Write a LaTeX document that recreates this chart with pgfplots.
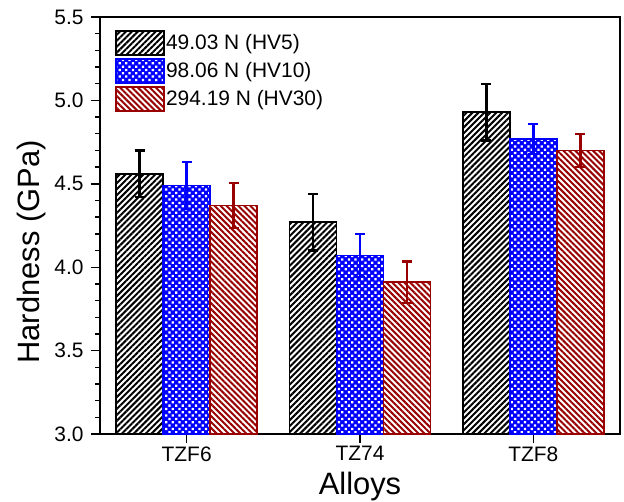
\documentclass[border=0pt]{standalone}
\usepackage{fontspec}
\setmainfont{Liberation Sans}
\usepackage{pgfplots}
\pgfplotsset{compat=1.18}
\usetikzlibrary{patterns.meta}
\definecolor{wine}{HTML}{990000}

\begin{document}
\begin{tikzpicture}
\useasboundingbox (-100bp,-68bp) rectangle (524bp,434bp);
\begin{axis}[
  at={(0,0)}, anchor=south west,
  scale only axis, width=520bp, height=417bp,
  ybar=0pt, bar width=47bp,
  xmin=-0.5, xmax=2.5, ymin=3, ymax=5.5,
  xtick={0,1,2}, xticklabels={TZF6,TZ74,TZF8},
  ytick={3,3.5,...,5.5}, minor y tick num=4,
  yticklabel style={xshift=-4bp, /pgf/number format/.cd, fixed, fixed zerofill, precision=1},
  /pgf/number format/assume math mode=true,
  tick align=outside, xtick pos=bottom, ytick pos=left,
  major tick length=9bp, minor tick length=5bp,
  axis line style={line width=1.8bp},
  tick style={line width=1.4bp, black},
  ticklabel style={font=\fontsize{21}{25}\selectfont},
  xlabel={Alloys}, ylabel={Hardness (GPa)},
  label style={font=\fontsize{31}{36}\selectfont},
  xlabel style={at={(axis description cs:0.5,-0.144)}, anchor=base},
  ylabel style={at={(axis description cs:-0.131,0.4365)}, anchor=center},
  legend style={draw=none, fill=none, at={(axis description cs:0.029,0.969)},
    anchor=north west, inner sep=0pt, row sep=2bp,
    font=\fontsize{21}{25}\selectfont, nodes={inner sep=1bp},
    /tikz/every even column/.append style={column sep=6bp}},
  legend cell align=left,
  legend image code/.code={\draw[#1] (0bp,-12bp) rectangle (48bp,12bp);},
]
\addplot[draw=black, line width=1.8bp,
  pattern={Lines[angle=45,distance=4.2bp,line width=2bp]}, pattern color=black,
  error bars/.cd, y dir=both, y explicit,
  error bar style={line width=2.4bp, black},
  error mark options={rotate=90, mark size=5bp, line width=2.4bp, black}]
  coordinates {(0,4.56) +- (0,0.14) (1,4.27) +- (0,0.17) (2,4.93) +- (0,0.17)};
\addlegendentry{49.03 N (HV5)}
\addplot[draw=blue, line width=1.8bp, fill=blue,
  postaction={pattern={Dots[distance=4.7bp,radius=1.6bp,angle=45]}, pattern color=white},
  error bars/.cd, y dir=both, y explicit,
  error bar style={line width=2.4bp, blue},
  error mark options={rotate=90, mark size=5bp, line width=2.4bp, blue}]
  coordinates {(0,4.49) +- (0,0.14) (1,4.07) +- (0,0.13) (2,4.77) +- (0,0.09)};
\addlegendentry{98.06 N (HV10)}
\addplot[draw=wine, line width=1.8bp,
  pattern={Lines[angle=-45,distance=4.2bp,line width=2bp]}, pattern color=wine,
  error bars/.cd, y dir=both, y explicit,
  error bar style={line width=2.4bp, wine},
  error mark options={rotate=90, mark size=5bp, line width=2.4bp, wine}]
  coordinates {(0,4.37) +- (0,0.135) (1,3.91) +- (0,0.125) (2,4.70) +- (0,0.10)};
\addlegendentry{294.19 N (HV30)}
\end{axis}
\end{tikzpicture}
\end{document}
